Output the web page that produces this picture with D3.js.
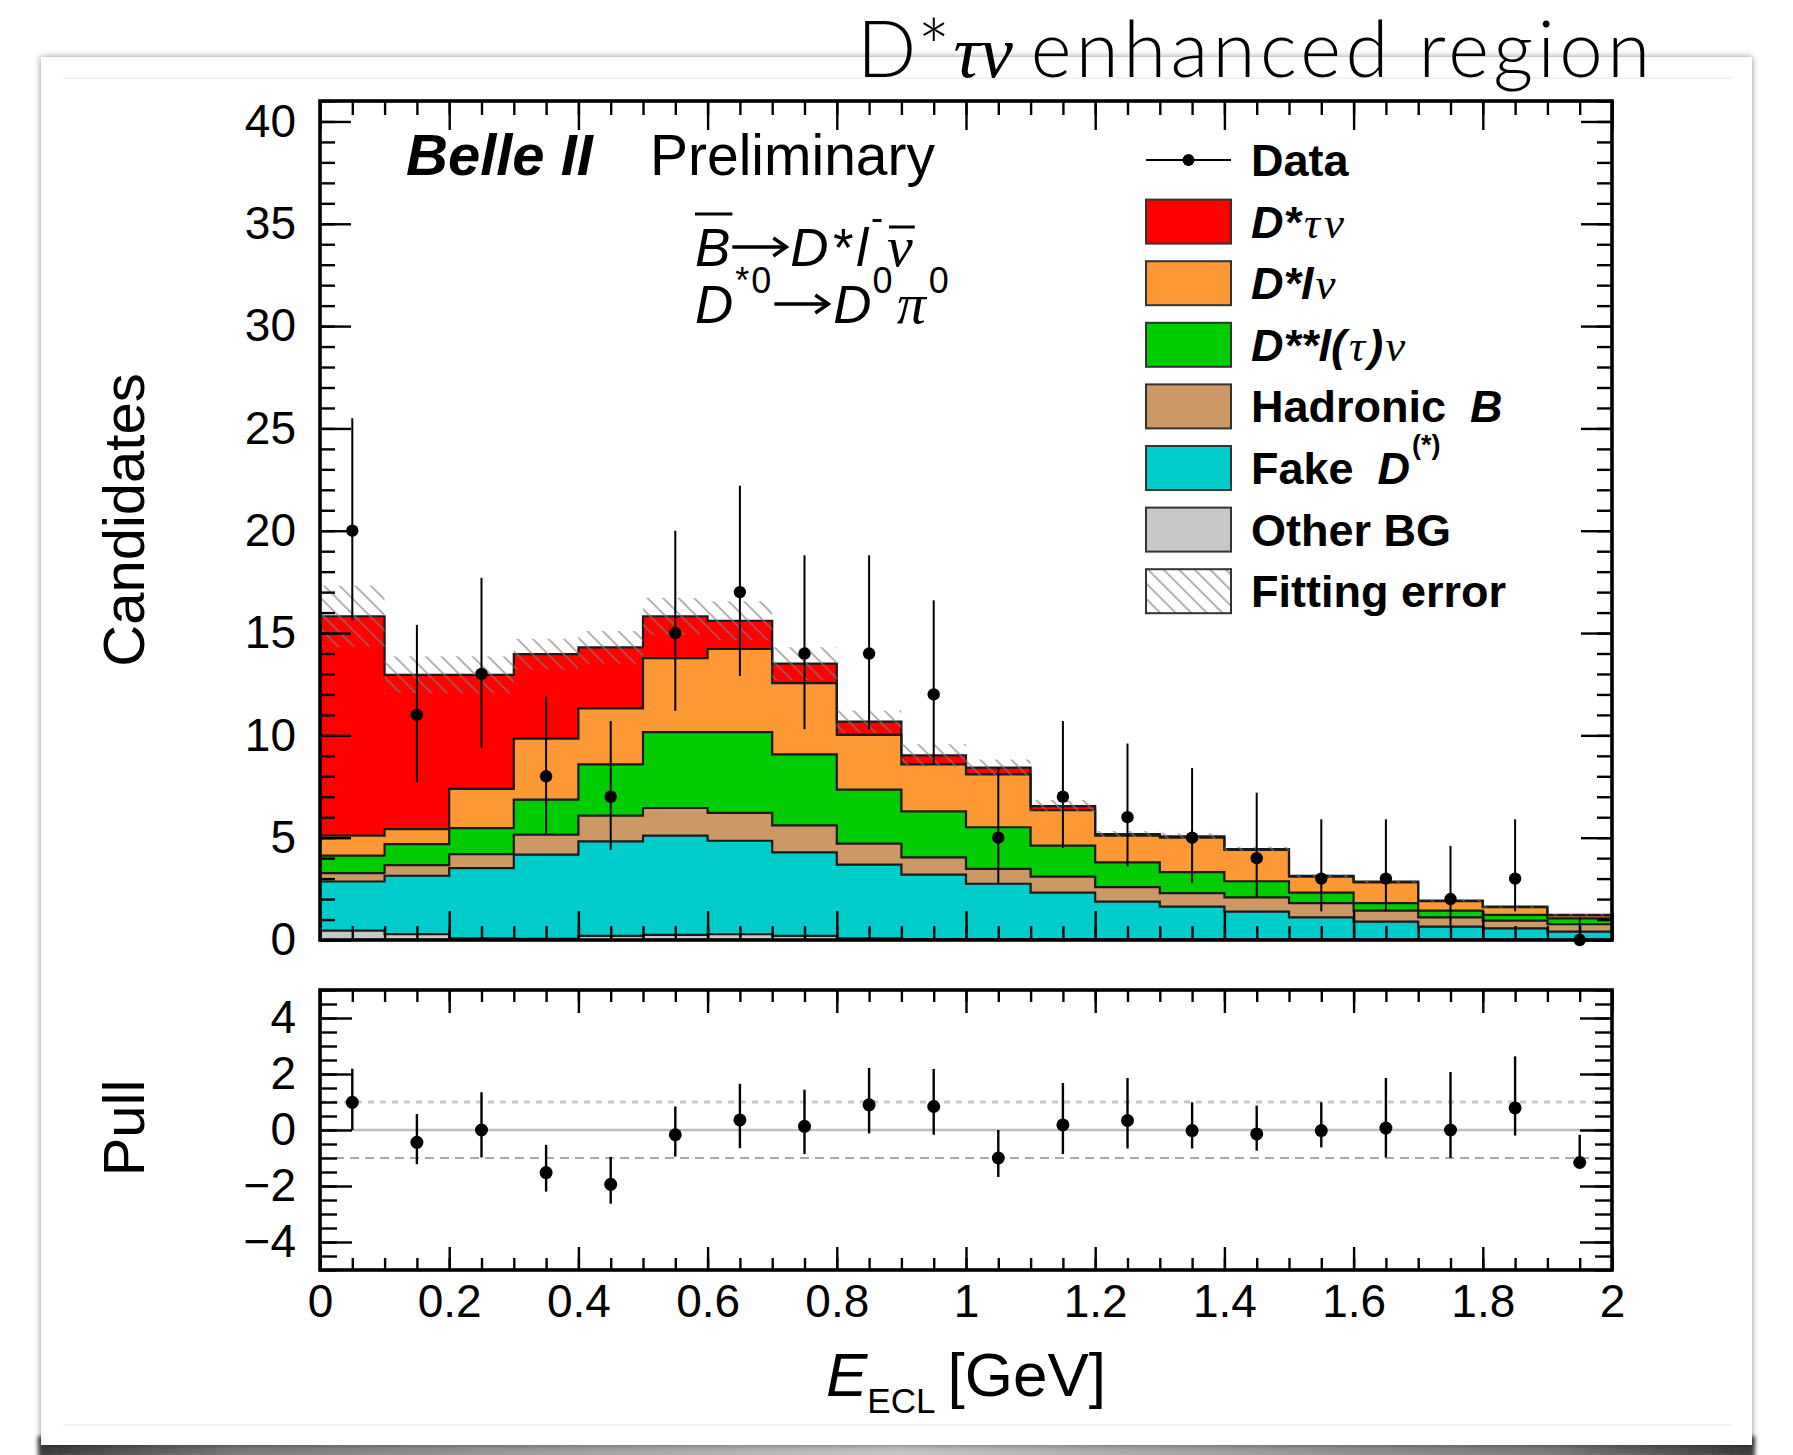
<!DOCTYPE html>
<html>
<head>
<meta charset="utf-8">
<script src="https://cdn.jsdelivr.net/npm/d3@7"></script>
<style>
  html, body { margin: 0; padding: 0; background: #fff; }
  svg { display: block; }
  text { white-space: pre; }
</style>
</head>
<body>
<svg id="chart" width="1793" height="1455"></svg>
<script>
// ---- Binning: E_ECL in 0.1 GeV bins from 0 to 2 GeV ----
const binLow = [0.0, 0.1, 0.2, 0.3, 0.4, 0.5, 0.6, 0.7, 0.8, 0.9,
                1.0, 1.1, 1.2, 1.3, 1.4, 1.5, 1.6, 1.7, 1.8, 1.9];
const binWidth = 0.1;

// ---- Fitted yields per bin (candidates), stacked bottom -> top ----
const otherBG   = [0.46, 0.29, 0.08, 0.06, 0.20, 0.25, 0.28, 0.20, 0.08, 0.05,
                   0.05, 0.04, 0.03, 0.03, 0.02, 0.02, 0.02, 0.02, 0.02, 0.02];
const fakeD     = [2.40, 2.85, 3.43, 4.11, 4.62, 4.85, 4.57, 4.08, 3.60, 3.14,
                   2.70, 2.28, 1.85, 1.60, 1.37, 1.09, 0.88, 0.63, 0.55, 0.39];
const hadronicB = [0.41, 0.52, 0.69, 0.98, 1.26, 1.35, 1.36, 1.32, 1.03, 0.85,
                   0.73, 0.78, 0.70, 0.66, 0.69, 0.69, 0.54, 0.46, 0.38, 0.36];
const dssLnu    = [0.85, 1.03, 1.27, 1.71, 2.50, 3.71, 3.95, 3.47, 2.64, 2.25,
                   2.03, 1.51, 1.21, 1.03, 0.79, 0.52, 0.36, 0.33, 0.28, 0.29];
const dsLnu     = [0.98, 0.73, 1.92, 2.98, 2.74, 3.61, 4.06, 3.48, 2.67, 2.29,
                   2.58, 1.73, 1.31, 1.68, 1.53, 0.78, 1.02, 0.46, 0.37, 0.14];
const dsTauNu   = [10.72, 7.54, 5.57, 4.13, 2.98, 2.05, 1.38, 0.96, 0.65, 0.44,
                   0.33, 0.20, 0.08, 0.07, 0.04, 0.04, 0.04, 0.03, 0.03, 0.03];
// symmetric fit uncertainty on the total
const fitError  = [1.50, 0.90, 0.90, 0.75, 0.80, 0.90, 0.95, 0.80, 0.55, 0.55,
                   0.40, 0.30, 0.15, 0.15, 0.12, 0.08, 0.07, 0.05, 0.05, 0.04];

// ---- Data (counts with asymmetric Poisson errors) ----
const dataCounts = [20, 11, 13, 8, 7, 15, 17, 14, 14, 12, 5, 7, 6, 5, 4, 3, 3, 2, 3, 0];
const dataErrLo  = [4.4, 3.3, 3.6, 2.8, 2.6, 3.8, 4.1, 3.7, 3.7, 3.4,
                    2.2, 2.5, 2.4, 2.2, 1.9, 1.6, 1.6, 1.3, 1.6, 0.0];
const dataErrHi  = [5.5, 4.4, 4.7, 3.9, 3.7, 5.0, 5.2, 4.8, 4.8, 4.6,
                    3.4, 3.7, 3.6, 3.4, 3.2, 2.9, 2.9, 2.6, 2.9, 1.1];

// ---- Pull per bin, with the ends of its error bar ----
const pull    = [0.99, -0.44, 0.00, -1.52, -1.94, -0.17, 0.36, 0.13, 0.90, 0.84,
                 -1.00, 0.18, 0.34, -0.02, -0.14, -0.02, 0.07, 0.00, 0.79, -1.16];
const pullLo  = [0.00, -1.22, -0.98, -2.20, -2.63, -0.95, -0.65, -0.86, -0.12, -0.17,
                 -1.68, -0.86, -0.66, -0.66, -0.74, -0.62, -0.98, -1.00, -0.20, -1.16];
const pullHi  = [2.19, 0.57, 1.35, -0.53, -0.96, 0.84, 1.65, 1.44, 2.22, 2.18,
                 0.00, 1.68, 1.86, 0.99, 0.87, 0.99, 1.86, 2.07, 2.63, -0.17];

// ---- Axis ticks ----
const xTicks       = [0, 0.2, 0.4, 0.6, 0.8, 1, 1.2, 1.4, 1.6, 1.8, 2];
const xTickLabels  = ['0', '0.2', '0.4', '0.6', '0.8', '1', '1.2', '1.4', '1.6', '1.8', '2'];
const yTicks       = [0, 5, 10, 15, 20, 25, 30, 35, 40];
const yTickLabels  = ['0', '5', '10', '15', '20', '25', '30', '35', '40'];
const pullTicks    = [-4, -2, 0, 2, 4];
const pullTickLabels = ['\u22124', '\u22122', '0', '2', '4'];

// ---- Components (legend order) ----
const components = [
  { key: 'dstaunu',  color: '#ff0000', values: dsTauNu },
  { key: 'dslnu',    color: '#fc9935', values: dsLnu },
  { key: 'dssl',     color: '#00cc00', values: dssLnu },
  { key: 'hadronic', color: '#cc9966', values: hadronicB },
  { key: 'fake',     color: '#00cccc', values: fakeD },
  { key: 'other',    color: '#c8c8c8', values: otherBG }
];

const SANS = "'Liberation Sans', Arial, Helvetica, sans-serif";
const SERIF = "'Liberation Serif', 'Times New Roman', serif";
const LIGHT = "Lato, 'Open Sans', 'Noto Sans', sans-serif";

const svg = d3.select('#chart');
const defs = svg.append('defs');

// ---------- slide card ----------
const shadow = defs.append('filter').attr('id', 'cardShadow')
  .attr('x', '-3%').attr('y', '-3%').attr('width', '106%').attr('height', '106%');
shadow.append('feDropShadow').attr('dx', 0).attr('dy', 0).attr('stdDeviation', 3)
  .attr('flood-color', '#000').attr('flood-opacity', 0.45);
const blur = defs.append('filter').attr('id', 'soft');
blur.append('feGaussianBlur').attr('stdDeviation', 2);
const curl = defs.append('linearGradient').attr('id', 'curl')
  .attr('x1', '0%').attr('x2', '100%').attr('y1', '0%').attr('y2', '0%');
[['0%', '#3a3a3a'], ['12%', '#7a7a7a'], ['50%', '#c4c4c4'], ['88%', '#7a7a7a'], ['100%', '#3a3a3a']]
  .forEach(([o, c]) => curl.append('stop').attr('offset', o).attr('stop-color', c));

svg.append('rect').attr('x', 38).attr('y', 1436).attr('width', 1717).attr('height', 22)
  .attr('fill', 'url(#curl)').attr('filter', 'url(#soft)');
svg.append('rect').attr('x', 41).attr('y', 57).attr('width', 1711).attr('height', 1388)
  .attr('fill', '#fff').attr('filter', 'url(#cardShadow)');
svg.append('line').attr('x1', 63).attr('x2', 1732).attr('y1', 78).attr('y2', 78)
  .attr('stroke', '#eeeeee').attr('stroke-width', 1.5);
svg.append('line').attr('x1', 63).attr('x2', 1732).attr('y1', 1425).attr('y2', 1425)
  .attr('stroke', '#eeeeee').attr('stroke-width', 1.5);

// ---------- rich text helper (mixed fonts, super/subscripts, overbars, arrows) ----------
function rich(parent, x0, y0, parts, anchor) {
  const g = parent.append('g');
  let cx = 0;
  parts.forEach(p => {
    if (p.arrow) {
      // drawn reaction arrow: shaft plus open head
      const x1 = cx + (p.dx || 0), x2 = x1 + p.arrow, ay = p.ay;
      g.append('line').attr('x1', x1).attr('x2', x2 - 2).attr('y1', ay).attr('y2', ay)
        .attr('stroke', '#000').attr('stroke-width', 3.4);
      g.append('path')
        .attr('d', `M${x2 - 13},${ay - 9} L${x2},${ay} L${x2 - 13},${ay + 9}`)
        .attr('fill', 'none').attr('stroke', '#000').attr('stroke-width', 3.4)
        .attr('stroke-linejoin', 'miter');
      cx = x2 + (p.gap || 0);
      return;
    }
    const t = g.append('text')
      .attr('x', cx + (p.dx || 0)).attr('y', p.dy || 0)
      .style('font-family', p.family || SANS)
      .style('font-size', p.size + 'px')
      .style('font-style', p.italic ? 'italic' : 'normal')
      .style('font-weight', p.weight || 'normal')
      .style('letter-spacing', p.ls ? p.ls + 'px' : null)
      .attr('fill', '#000')
      .text(p.t);
    const w = t.node().getComputedTextLength();
    if (p.bar) {
      g.append('line')
        .attr('x1', cx + (p.dx || 0) + p.bar.a).attr('x2', cx + (p.dx || 0) + w + p.bar.b)
        .attr('y1', p.bar.y).attr('y2', p.bar.y)
        .attr('stroke', '#000').attr('stroke-width', 3);
    }
    cx += w + (p.dx || 0) + (p.gap || 0);
  });
  const shift = anchor === 'end' ? -cx : anchor === 'middle' ? -cx / 2 : 0;
  g.attr('transform', `translate(${x0 + shift},${y0})`);
  return g;
}

// ---------- title ----------
rich(svg, 857, 77, [
  { t: 'D*', size: 78, family: LIGHT, weight: 300, ls: 1, gap: 2 },
  { t: '\u03c4\u03bd', size: 74, family: SERIF, italic: true, gap: 18 },
  { t: 'enhanced region', size: 78, family: LIGHT, weight: 300, ls: 4.4 }
]);

// ---------- scales ----------
const F = { l: 320, r: 1612, t: 101, b: 940 };
const P = { l: 320, r: 1612, t: 990, b: 1270 };
const x = d3.scaleLinear().domain([0, 2]).range([F.l, F.r]);
const y = d3.scaleLinear().domain([0, 41]).range([F.b, F.t]);
const yp = d3.scaleLinear().domain([-5, 5]).range([P.b, P.t]);

// ---------- stacked histogram ----------
const rows = binLow.map((lo, i) => {
  const r = { lo };
  components.forEach(c => { r[c.key] = c.values[i]; });
  return r;
});
const stackOrder = components.map(c => c.key).reverse(); // bottom first
const series = d3.stack().keys(stackOrder)(rows);
const colorOf = Object.fromEntries(components.map(c => [c.key, c.color]));

function stepPoints(s) {
  const pts = s.map((d, i) => ({ x: binLow[i], y0: d[0], y1: d[1] }));
  const last = pts[pts.length - 1];
  pts.push({ x: last.x + binWidth, y0: last.y0, y1: last.y1 });
  return pts;
}
const area = d3.area().curve(d3.curveStepAfter)
  .x(p => x(p.x)).y0(p => y(p.y0)).y1(p => y(p.y1));
const topLine = d3.line().curve(d3.curveStepAfter)
  .x(p => x(p.x)).y(p => y(p.y1));

const histG = svg.append('g');
series.forEach(s => {
  histG.append('path').attr('d', area(stepPoints(s)))
    .attr('fill', colorOf[s.key]).attr('stroke', 'none');
});
series.forEach(s => {
  histG.append('path').attr('d', topLine(stepPoints(s)))
    .attr('fill', 'none').attr('stroke', '#1a1a1a').attr('stroke-width', 2.2);
});

// fitting-error hatch around the total
const hatch = defs.append('pattern').attr('id', 'hatch')
  .attr('patternUnits', 'userSpaceOnUse').attr('width', 11).attr('height', 11)
  .attr('patternTransform', 'rotate(-45)');
hatch.append('line').attr('x1', 2).attr('x2', 2).attr('y1', 0).attr('y2', 11)
  .attr('stroke', '#7d7d7d').attr('stroke-width', 1.6).attr('stroke-opacity', 0.75);

const totals = rows.map(r => components.reduce((s, c) => s + r[c.key], 0));
svg.append('g').selectAll('rect').data(binLow).join('rect')
  .attr('x', d => x(d)).attr('width', x(binWidth) - x(0))
  .attr('y', (d, i) => y(totals[i] + fitError[i]))
  .attr('height', (d, i) => y(totals[i] - fitError[i]) - y(totals[i] + fitError[i]))
  .attr('fill', 'url(#hatch)');

// ---------- data points ----------
const dataG = svg.append('g');
dataG.selectAll('line').data(dataCounts).join('line')
  .attr('x1', (d, i) => x(binLow[i] + binWidth / 2)).attr('x2', (d, i) => x(binLow[i] + binWidth / 2))
  .attr('y1', (d, i) => y(d - dataErrLo[i])).attr('y2', (d, i) => y(d + dataErrHi[i]))
  .attr('stroke', '#000').attr('stroke-width', 2);
dataG.selectAll('circle').data(dataCounts).join('circle')
  .attr('cx', (d, i) => x(binLow[i] + binWidth / 2)).attr('cy', d => y(d)).attr('r', 6.2)
  .attr('fill', '#000');

// ---------- axes (ROOT style: ticks inside the frame, all four sides) ----------
function tickAxes(g, xs, ys, box, opt) {
  const tw = 2.4;
  const style = sel => {
    sel.select('.domain').remove();
    sel.selectAll('line').attr('stroke', '#000').attr('stroke-width', tw);
  };
  const xMinor = d3.range(0, 2.0001, 0.05);
  g.append('g').attr('transform', `translate(0,${box.b})`)
    .call(d3.axisBottom(xs).tickValues(xMinor).tickSize(-opt.xMinorLen).tickFormat('')).call(style);
  g.append('g').attr('transform', `translate(0,${box.t})`)
    .call(d3.axisTop(xs).tickValues(xMinor).tickSize(-opt.xMinorLen).tickFormat('')).call(style);
  const xb = g.append('g').attr('transform', `translate(0,${box.b})`)
    .call(d3.axisBottom(xs).tickValues(xTicks).tickSize(-opt.xMajorLen)
      .tickPadding(opt.xPad).tickFormat((d, i) => opt.xLabels ? xTickLabels[i] : ''))
    .call(style);
  xb.selectAll('text').style('font-family', SANS).style('font-size', '46px').attr('fill', '#000');
  g.append('g').attr('transform', `translate(0,${box.t})`)
    .call(d3.axisTop(xs).tickValues(xTicks).tickSize(-opt.xMajorLen).tickFormat('')).call(style);

  g.append('g').attr('transform', `translate(${box.l},0)`)
    .call(d3.axisLeft(ys).tickValues(opt.yMinor).tickSize(-opt.yMinorLen).tickFormat('')).call(style);
  g.append('g').attr('transform', `translate(${box.r},0)`)
    .call(d3.axisRight(ys).tickValues(opt.yMinor).tickSize(-opt.yMinorLen).tickFormat('')).call(style);
  const yl = g.append('g').attr('transform', `translate(${box.l},0)`)
    .call(d3.axisLeft(ys).tickValues(opt.yMajor).tickSize(-opt.yMajorLen)
      .tickPadding(opt.yPad).tickFormat((d, i) => opt.yLabels[i]))
    .call(style);
  yl.selectAll('text').style('font-family', SANS).style('font-size', '46px').attr('fill', '#000');
  g.append('g').attr('transform', `translate(${box.r},0)`)
    .call(d3.axisRight(ys).tickValues(opt.yMajor).tickSize(-opt.yMajorLen).tickFormat('')).call(style);

  g.append('rect').attr('x', box.l).attr('y', box.t)
    .attr('width', box.r - box.l).attr('height', box.b - box.t)
    .attr('fill', 'none').attr('stroke', '#000').attr('stroke-width', 3.6);
}

tickAxes(svg.append('g'), x, y, F, {
  xMinorLen: 14, xMajorLen: 29, xPad: 10, xLabels: false,
  yMinor: d3.range(0, 41.001, 1), yMinorLen: 15, yMajor: yTicks, yMajorLen: 31,
  yLabels: yTickLabels, yPad: 24
});

// ---------- pull panel ----------
const pullG = svg.append('g');
pullG.append('line').attr('x1', P.l).attr('x2', P.r).attr('y1', yp(0)).attr('y2', yp(0))
  .attr('stroke', '#bdbdbd').attr('stroke-width', 2.5);
pullG.append('line').attr('x1', P.l).attr('x2', P.r).attr('y1', yp(1)).attr('y2', yp(1))
  .attr('stroke', '#c8c8c8').attr('stroke-width', 3).attr('stroke-dasharray', '6,6');
pullG.append('line').attr('x1', P.l).attr('x2', P.r).attr('y1', yp(-1)).attr('y2', yp(-1))
  .attr('stroke', '#a8a8a8').attr('stroke-width', 2).attr('stroke-dasharray', '9,6');

pullG.selectAll('line.err').data(pull).join('line').attr('class', 'err')
  .attr('x1', (d, i) => x(binLow[i] + binWidth / 2)).attr('x2', (d, i) => x(binLow[i] + binWidth / 2))
  .attr('y1', (d, i) => yp(pullLo[i])).attr('y2', (d, i) => yp(pullHi[i]))
  .attr('stroke', '#000').attr('stroke-width', 2.4);
pullG.selectAll('circle').data(pull).join('circle')
  .attr('cx', (d, i) => x(binLow[i] + binWidth / 2)).attr('cy', d => yp(d)).attr('r', 6.5)
  .attr('fill', '#000');

tickAxes(svg.append('g'), x, yp, P, {
  xMinorLen: 12, xMajorLen: 23, xPad: 14, xLabels: true,
  yMinor: d3.range(-5, 5.001, 0.5), yMinorLen: 17, yMajor: pullTicks, yMajorLen: 32,
  yLabels: pullTickLabels, yPad: 24
});

// ---------- axis titles ----------
svg.append('text').attr('transform', 'translate(144,520) rotate(-90)')
  .attr('text-anchor', 'middle').style('font-family', SANS).style('font-size', '58px')
  .text('Candidates');
svg.append('text').attr('transform', 'translate(144,1128) rotate(-90)')
  .attr('text-anchor', 'middle').style('font-family', SANS).style('font-size', '58px')
  .text('Pull');
rich(svg, 826, 1396, [
  { t: 'E', size: 62, italic: true },
  { t: 'ECL', size: 35, dy: 17, gap: 12 },
  { t: '[GeV]', size: 62 }
]);

// ---------- labels in the frame ----------
rich(svg, 406, 175, [{ t: 'Belle II', size: 58, italic: true, weight: 'bold' }]);
rich(svg, 650, 175, [{ t: 'Preliminary', size: 57 }]);

rich(svg, 695, 266, [
  { t: 'B', size: 53, italic: true, bar: { y: -52, a: 0, b: 2 }, gap: 2 },
  { arrow: 54, ay: -19, gap: 4 },
  { t: 'D', size: 53, italic: true, gap: 2 },
  { t: '*', size: 53, italic: true, gap: 5 },
  { t: 'l', size: 53, italic: true, gap: 3 },
  { t: '-', size: 36, dy: -36, gap: 4 },
  { t: '\u03bd', size: 58, family: SERIF, italic: true, bar: { y: -39, a: 2, b: 2 } }
]);
rich(svg, 695, 323, [
  { t: 'D', size: 53, italic: true, gap: 2 },
  { t: '*', size: 36, dy: -30, gap: 2 },
  { t: '0', size: 36, dy: -30, gap: 3 },
  { arrow: 54, ay: -19, gap: 5 },
  { t: 'D', size: 53, italic: true, gap: 1 },
  { t: '0', size: 36, dy: -30, gap: 4 },
  { t: '\u03c0', size: 58, family: SERIF, italic: true, gap: 3 },
  { t: '0', size: 36, dy: -30 }
]);

// ---------- legend ----------
const L = { x: 1146, w: 85, h: 44, tx: 1251, y0: 160, dy: 61.6 };
const legG = svg.append('g');
legG.append('line').attr('x1', L.x).attr('x2', L.x + L.w).attr('y1', L.y0).attr('y2', L.y0)
  .attr('stroke', '#000').attr('stroke-width', 2);
legG.append('circle').attr('cx', L.x + L.w / 2).attr('cy', L.y0).attr('r', 6).attr('fill', '#000');
rich(legG, L.tx, L.y0 + 16, [{ t: 'Data', size: 45, weight: 'bold' }]);

const legendLabels = [
  [{ t: 'D*', size: 45, weight: 'bold', italic: true, gap: 3 },
   { t: '\u03c4\u03bd', size: 45, family: SERIF, italic: true, ls: 4 }],
  [{ t: 'D*l', size: 45, weight: 'bold', italic: true, gap: 2 },
   { t: '\u03bd', size: 45, family: SERIF, italic: true }],
  [{ t: 'D**l(', size: 45, weight: 'bold', italic: true, gap: 3 },
   { t: '\u03c4', size: 45, family: SERIF, italic: true, gap: 3 },
   { t: ')', size: 45, weight: 'bold', italic: true, gap: 2 },
   { t: '\u03bd', size: 45, family: SERIF, italic: true }],
  [{ t: 'Hadronic', size: 45, weight: 'bold', gap: 24 },
   { t: 'B', size: 45, weight: 'bold', italic: true }],
  [{ t: 'Fake', size: 45, weight: 'bold', gap: 24 },
   { t: 'D', size: 45, weight: 'bold', italic: true, gap: 2 },
   { t: '(*)', size: 27, weight: 'bold', dy: -30 }],
  [{ t: 'Other BG', size: 45, weight: 'bold' }],
  [{ t: 'Fitting error', size: 45, weight: 'bold' }]
];
const legendFills = components.map(c => c.color).concat(['url(#hatch)']);
legendFills.forEach((fill, i) => {
  const cy = L.y0 + L.dy * (i + 1);
  if (i === legendFills.length - 1) {
    legG.append('rect').attr('x', L.x).attr('y', cy - L.h / 2).attr('width', L.w).attr('height', L.h)
      .attr('fill', '#fff');
  }
  legG.append('rect').attr('x', L.x).attr('y', cy - L.h / 2).attr('width', L.w).attr('height', L.h)
    .attr('fill', fill).attr('stroke', '#333').attr('stroke-width', 2);
  rich(legG, L.tx, cy + 16, legendLabels[i]);
});
</script>
</body>
</html>
